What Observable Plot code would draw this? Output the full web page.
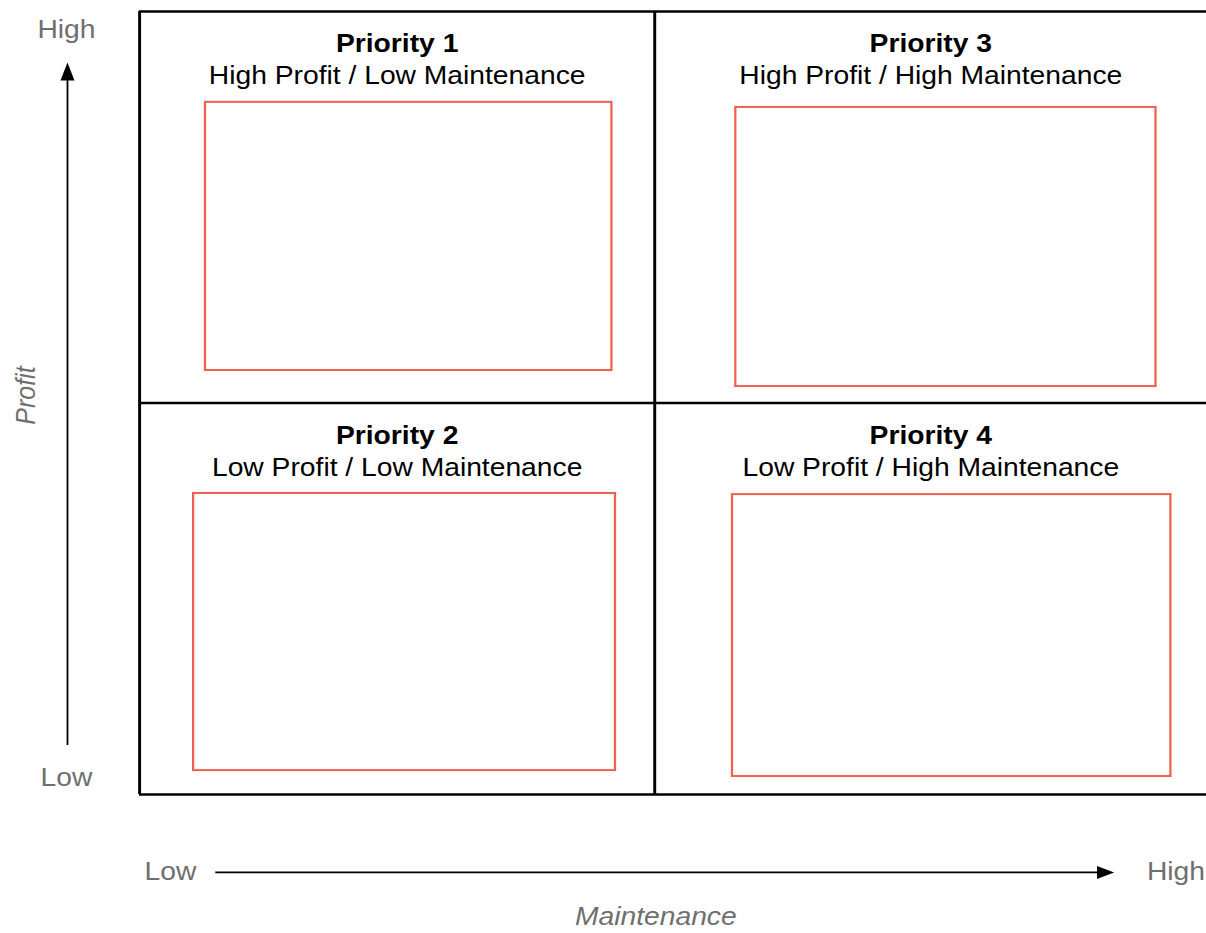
<!DOCTYPE html>
<html>
<head>
<meta charset="utf-8">
<script src="https://cdn.jsdelivr.net/npm/d3@7"></script>
<script src="https://cdn.jsdelivr.net/npm/@observablehq/plot@0.6"></script>
<style>
  html, body { margin: 0; padding: 0; background: #fff; overflow: hidden; }
  #chart svg { display: block; overflow: hidden; }
</style>
</head>
<body>
<div id="chart"></div>
<script>
// ---- Data (conceptual units: 0–1 = Low half, 1–2 = High half) ----
const priorities = ["Priority 1", "Priority 2", "Priority 3", "Priority 4"];
const descriptions = [
  "High Profit / Low Maintenance",
  "Low Profit / Low Maintenance",
  "High Profit / High Maintenance",
  "Low Profit / High Maintenance"
];
const quadCenterX = [0.5, 0.5, 1.5, 1.5];
const titleY = [1.916, 0.917, 1.916, 0.917];
const descY = [1.834, 0.833, 1.834, 0.833];

// placeholder boxes inside each quadrant
const boxX1 = [0.128, 0.105, 1.147, 1.141];
const boxX2 = [0.917, 0.924, 1.908, 1.935];
const boxY1 = [1.083, 0.061, 1.042, 0.046];
const boxY2 = [1.768, 0.769, 1.755, 0.766];

// quadrant grid lines
const gridX = [0, 1];
const gridY = [0, 1, 2];

// axis annotations
const profitLevels = ["Low", "High"];
const profitLevelY = [0.043, 1.954];
const profitAxisX = -0.142;
const profitArrowX = -0.140;
const profitArrowFrom = 0.125;
const profitArrowTo = 1.870;
const profitTitle = "Profit";
const profitTitleX = -0.221;
const profitTitleY = 1.019;

const maintenanceLevels = ["Low", "High"];
const maintenanceLevelX = [0.06, 1.944];
const maintenanceAxisY = -0.199;
const maintenanceArrowFrom = 0.148;
const maintenanceArrowTo = 1.832;
const maintenanceTitle = "Maintenance";
const maintenanceTitleX = 1.002;
const maintenanceTitleY = -0.314;

// ---- Chart ----
const S = 1.13; // horizontal stretch of the reference drawing
const W = Math.round(1206 / S);
const idx = d3.range(priorities.length);
const red = "#f0604e";
const grey = "#6f6f6f";
const font = "'Liberation Sans', Arial, Helvetica, sans-serif";

const headUp = { draw(ctx) { ctx.moveTo(0, 0); ctx.lineTo(7 / S, 18); ctx.lineTo(-7 / S, 18); ctx.closePath(); } };
const headRight = { draw(ctx) { ctx.moveTo(0, 0); ctx.lineTo(-17 / S, -6.5); ctx.lineTo(-17 / S, 6.5); ctx.closePath(); } };

const svg = Plot.plot({
  width: W,
  height: 933,
  margin: 0,
  style: { fontFamily: font, background: "#fff" },
  x: { type: "linear", domain: [0, 1, 2], range: [139 / S, 654 / S, 1206 / S], axis: null },
  y: { type: "linear", domain: [0, 2], range: [794, 11], axis: null },
  marks: [
    // quadrant frame
    Plot.ruleX(gridX, { x: d => d, y1: () => 0, y2: () => 2, stroke: "#000", strokeWidth: 2.6 }),
    Plot.ruleY(gridY, { y: d => d, x1: () => 0, x2: () => 2, stroke: "#000", strokeWidth: 2.6 }),
    // placeholder boxes
    Plot.rect(idx, {
      x1: i => boxX1[i], x2: i => boxX2[i], y1: i => boxY1[i], y2: i => boxY2[i],
      fill: "none", stroke: red, strokeWidth: 2
    }),
    // quadrant titles
    Plot.text(idx, { x: i => quadCenterX[i], y: i => titleY[i], text: i => priorities[i],
      fontSize: 25, fontWeight: "bold", fill: "#000" }),
    Plot.text(idx, { x: i => quadCenterX[i], y: i => descY[i], text: i => descriptions[i],
      fontSize: 25, fill: "#000" }),
    // profit axis
    Plot.ruleX([profitArrowX], { x: d => d, y1: () => profitArrowFrom, y2: () => profitArrowTo - 0.03,
      stroke: "#000", strokeWidth: 1.6 }),
    Plot.dot([profitArrowX], { x: d => d, y: () => profitArrowTo, symbol: headUp, fill: "#000", stroke: "none" }),
    Plot.text(profitLevels, { x: () => profitAxisX, y: (d, i) => profitLevelY[i], text: d => d,
      fontSize: 25, fill: grey }),
    Plot.text([profitTitle], { x: () => profitTitleX, y: () => profitTitleY, text: d => d,
      rotate: -90, fontSize: 25, fontStyle: "italic", fill: grey }),
    // maintenance axis
    Plot.ruleY([maintenanceAxisY], { y: d => d, x1: () => maintenanceArrowFrom, x2: () => maintenanceArrowTo - 0.02,
      stroke: "#000", strokeWidth: 1.6 }),
    Plot.dot([maintenanceAxisY], { x: () => maintenanceArrowTo, y: d => d, symbol: headRight, fill: "#000", stroke: "none" }),
    Plot.text(maintenanceLevels, { x: (d, i) => maintenanceLevelX[i], y: () => maintenanceAxisY, text: d => d,
      fontSize: 25, fill: grey }),
    Plot.text([maintenanceTitle], { x: () => maintenanceTitleX, y: () => maintenanceTitleY, text: d => d,
      fontSize: 25, fontStyle: "italic", fill: grey })
  ]
});

svg.setAttribute("preserveAspectRatio", "none");
svg.setAttribute("width", 1206);
svg.setAttribute("height", 933);
svg.style.width = "1206px";
svg.style.height = "933px";
svg.style.maxWidth = "none";
document.getElementById("chart").appendChild(svg);
</script>
</body>
</html>
